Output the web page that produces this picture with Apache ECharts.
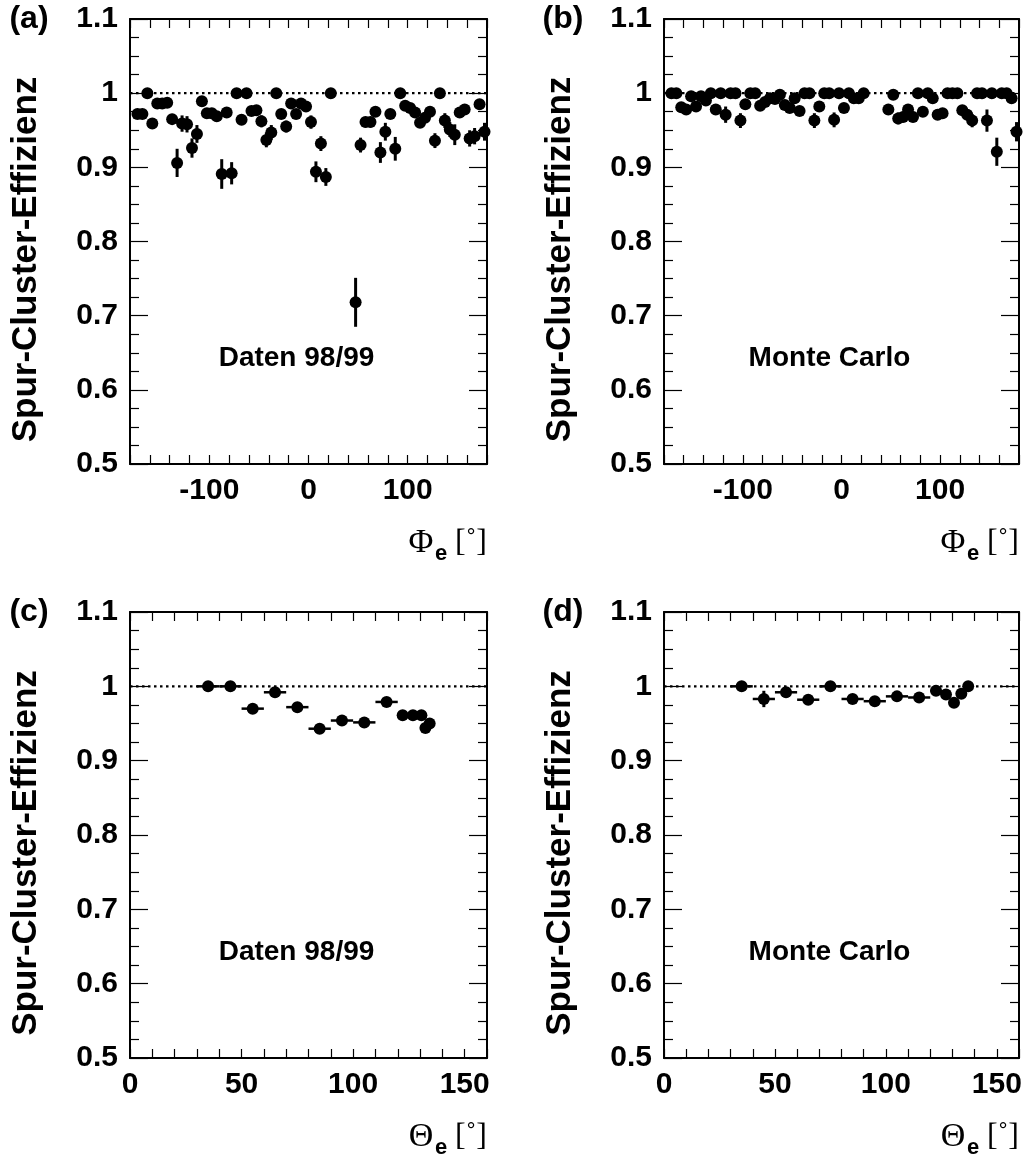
<!DOCTYPE html>
<html><head><meta charset="utf-8">
<script src="https://cdn.jsdelivr.net/npm/echarts@6/dist/echarts.min.js"></script>
<style>html,body{margin:0;padding:0;background:#fff}#c{width:1027px;height:1156px}</style>
</head><body><div id="c"></div>
<script>
// ---- Data ----
const phiBins = [-172.5,-167.5,-162.5,-157.5,-152.5,-147.5,-142.5,-137.5,-132.5,-127.5,-122.5,-117.5,-112.5,-107.5,-102.5,-97.5,-92.5,-87.5,-82.5,-77.5,-72.5,-67.5,-62.5,-57.5,-52.5,-47.5,-42.5,-37.5,-32.5,-27.5,-22.5,-17.5,-12.5,-7.5,-2.5,2.5,7.5,12.5,17.5,22.5,47.5,52.5,57.5,62.5,67.5,72.5,77.5,82.5,87.5,92.5,97.5,102.5,107.5,112.5,117.5,122.5,127.5,132.5,137.5,142.5,147.5,152.5,157.5,162.5,167.5,172.5,177.5];
const effPhiData = [0.972,0.972,1.000,0.959,0.986,0.986,0.987,0.965,0.906,0.959,0.958,0.926,0.945,0.989,0.973,0.973,0.969,0.891,0.974,0.892,1.000,0.964,1.000,0.976,0.977,0.962,0.937,0.947,1.000,0.972,0.955,0.986,0.972,0.986,0.982,0.961,0.894,0.932,0.887,1.000,0.718,0.930,0.961,0.961,0.975,0.920,0.948,0.972,0.925,1.000,0.983,0.980,0.974,0.960,0.967,0.975,0.936,1.000,0.963,0.951,0.944,0.974,0.978,0.939,0.942,0.985,0.948];
const errPhiData = [0.006,0.006,0,0.007,0.005,0.005,0.005,0.007,0.019,0.011,0.011,0.013,0.012,0.005,0.006,0.006,0.006,0.020,0.006,0.015,0,0.007,0,0.006,0.006,0.008,0.010,0.010,0,0.006,0.008,0.005,0.006,0.005,0.006,0.009,0.014,0.010,0.012,0,0.033,0.010,0.007,0.007,0.006,0.014,0.012,0.006,0.016,0,0.005,0.006,0.006,0.007,0.007,0.006,0.010,0,0.010,0.010,0.014,0.006,0.006,0.011,0.011,0.005,0.012];
const effPhiMC = [1.000,1.000,0.981,0.978,0.996,0.982,0.996,0.990,1.000,0.978,1.000,0.971,1.000,1.000,0.963,0.985,1.000,1.000,0.983,0.988,0.993,0.992,0.998,0.984,0.980,0.993,0.976,1.000,1.000,0.963,0.982,1.000,1.000,0.964,1.000,0.980,1.000,0.993,0.993,1.000,0.978,0.998,0.966,0.968,0.978,0.968,1.000,0.975,1.000,0.993,0.971,0.973,1.000,1.000,1.000,0.977,0.971,0.963,1.000,1.000,0.963,1.000,0.921,1.000,1.000,0.993,0.948];
const errPhiMC = [0,0,0.005,0.005,0.003,0.005,0.003,0.004,0,0.005,0,0.011,0,0,0.010,0.005,0,0,0.005,0.004,0.003,0.004,0.002,0.005,0.005,0.003,0.006,0,0,0.010,0.005,0,0,0.010,0,0.005,0,0.003,0.003,0,0.005,0.002,0.008,0.007,0.005,0.007,0,0.006,0,0.003,0.007,0.007,0,0,0,0.006,0.007,0.009,0,0,0.015,0,0.019,0,0,0.003,0.013];

const thetaData = [35,45,55,65,75,85,95,105,115,122.2,126.8,130.6,132.4,134.3];
const thetaWidthData = [5,5,5,5,5,5,5,5,5,2.5,2,1.5,1,1];
const effThetaData = [1.000,1.000,0.970,0.992,0.972,0.943,0.954,0.9515,0.979,0.961,0.961,0.961,0.944,0.950];
const errThetaData = [0,0,0.004,0.003,0.004,0.004,0.004,0.004,0.003,0.004,0.004,0.004,0.005,0.005];

const thetaMC = [35,45,55,65,75,85,95,105,115,122.6,127.1,130.7,134.0,137.1];
const thetaWidthMC = [5,5,5,5,5,5,5,5,5,2.5,2,1.5,1.5,1.5];
const effThetaMC = [1.000,0.983,0.992,0.982,1.000,0.983,0.980,0.9865,0.985,0.994,0.989,0.978,0.990,1.000];
const errThetaMC = [0,0.011,0.004,0.004,0,0.004,0.004,0.003,0.003,0.003,0.004,0.005,0.004,0];

const yTicks = {min:0.5, max:1.1, interval:0.1};
const panelTexts = ['Daten 98/99','Monte Carlo','Daten 98/99','Monte Carlo'];
const panelLetters = ['(a)','(b)','(c)','(d)'];
const yTitle = 'Spur-Cluster-Effizienz';

// ---- Layout ----
const grids = [
  {left:130, top:19, width:357, height:445},
  {left:664, top:19, width:355, height:445},
  {left:130, top:612, width:357, height:446},
  {left:664, top:612, width:355, height:446}
];
const FONT = 'Liberation Sans';
const xCfg = [
  {min:-180, max:180, interval:20, show:[-100,0,100]},
  {min:-180, max:180, interval:20, show:[-100,0,100]},
  {min:0, max:160, interval:10, show:[0,50,100,150]},
  {min:0, max:160, interval:10, show:[0,50,100,150]}
];

const xAxes = [], yAxes = [], series = [], graphic = [];
function yfmt(v){ return String(+(+v).toFixed(2)); }

grids.forEach((g, i) => {
  const xc = xCfg[i];
  const line = {show:true, onZero:false, lineStyle:{color:'#000', width:2}};
  xAxes.push({gridIndex:i, type:'value', position:'bottom', min:xc.min, max:xc.max, interval:xc.interval,
    axisLine:line, splitLine:{show:false},
    axisTick:{show:true, inside:true, length:9, lineStyle:{color:'#000', width:1.2}},
    axisLabel:{show:true, interval:0, margin:12, color:'#000', fontFamily:FONT, fontWeight:'bold', fontSize:30,
      formatter:(v)=> xc.show.indexOf(Math.round(v))>=0 && Math.abs(v-Math.round(v))<1e-6 ? String(Math.round(v)) : ''}});
  xAxes.push({gridIndex:i, type:'value', position:'top', min:xc.min, max:xc.max, interval:xc.interval,
    axisLine:line, splitLine:{show:false}, axisLabel:{show:false},
    axisTick:{show:true, inside:true, length:9, lineStyle:{color:'#000', width:1.2}}});
  yAxes.push({gridIndex:i, type:'value', position:'left', min:yTicks.min, max:yTicks.max, interval:yTicks.interval,
    axisLine:line, splitLine:{show:false},
    axisTick:{show:true, inside:true, length:18, lineStyle:{color:'#000', width:1.2}},
    minorTick:{show:true, splitNumber:4, length:9, lineStyle:{color:'#000', width:1.2}},
    axisLabel:{show:true, margin:12, color:'#000', fontFamily:FONT, fontWeight:'bold', fontSize:30, formatter:yfmt}});
  yAxes.push({gridIndex:i, type:'value', position:'right', min:yTicks.min, max:yTicks.max, interval:yTicks.interval,
    axisLine:line, splitLine:{show:false}, axisLabel:{show:false},
    axisTick:{show:true, inside:true, length:18, lineStyle:{color:'#000', width:1.2}},
    minorTick:{show:true, splitNumber:4, length:9, lineStyle:{color:'#000', width:1.2}}});
});

function errRender(params, api){
  const x = api.value(0), y = api.value(1), ey = api.value(2), ex = api.value(3);
  const ch = [];
  if (ey > 0){
    const a = api.coord([x, y-ey]), b = api.coord([x, y+ey]);
    ch.push({type:'line', shape:{x1:a[0], y1:a[1], x2:b[0], y2:b[1]}, style:{stroke:'#000', lineWidth:3}});
  }
  if (ex > 0){
    const a = api.coord([x-ex, y]), b = api.coord([x+ex, y]);
    ch.push({type:'line', shape:{x1:a[0], y1:a[1], x2:b[0], y2:b[1]}, style:{stroke:'#000', lineWidth:2.5}});
  }
  return {type:'group', children:ch};
}

const sets = [
  {x:phiBins, y:effPhiData, e:errPhiData, w:null},
  {x:phiBins, y:effPhiMC, e:errPhiMC, w:null},
  {x:thetaData, y:effThetaData, e:errThetaData, w:thetaWidthData},
  {x:thetaMC, y:effThetaMC, e:errThetaMC, w:thetaWidthMC}
];
sets.forEach((s, i) => {
  series.push({type:'line', xAxisIndex:2*i, yAxisIndex:2*i, data:[[xCfg[i].min,1],[xCfg[i].max,1]],
    symbol:'none', silent:true, z:1, lineStyle:{color:'#000', width:2.2, type:[2.5,3.5]}});
  series.push({type:'custom', xAxisIndex:2*i, yAxisIndex:2*i, renderItem:errRender, clip:true, z:2, silent:true,
    data:s.x.map((x,k)=>[x, s.y[k], s.e[k], s.w ? s.w[k] : 0])});
  series.push({type:'scatter', xAxisIndex:2*i, yAxisIndex:2*i, symbol:'circle', symbolSize:12, z:3, silent:true,
    itemStyle:{color:'#000', opacity:1}, data:s.x.map((x,k)=>[x, s.y[k]])});
});

grids.forEach((g, i) => {
  const cx = g.left + g.width/2;
  graphic.push({type:'text', x:cx - 12, y:g.top + g.height*0.763, style:{text:panelTexts[i], fill:'#000',
    font:'bold 28px "Liberation Sans"', align:'center', verticalAlign:'middle'}});
  graphic.push({type:'text', x:g.left - 101, y:g.top, style:{text:panelLetters[i], fill:'#000',
    font:'bold 32px "Liberation Sans"', align:'center', verticalAlign:'middle'}});
  graphic.push({type:'text', x:g.left - 104, y:g.top + g.height/2 + 18, rotation:Math.PI/2,
    style:{text:yTitle, fill:'#000', font:'bold 35px "Liberation Sans"', align:'center', verticalAlign:'middle'}});
  const sym = i < 2 ? '\u03A6' : '\u0398';
  const r = g.left + g.width;
  const by = g.top + g.height + 79;
  graphic.push({type:'text', x:r - 66, y:by, style:{text:sym, fill:'#000', font:'34px "Liberation Serif"', align:'center', verticalAlign:'middle'}});
  graphic.push({type:'text', x:r - 46, y:by + 11, style:{text:'e', fill:'#000', font:'bold 22px "Liberation Sans"', align:'center', verticalAlign:'middle'}});
  graphic.push({type:'text', x:r - 16, y:by, style:{text:'[\u02DA]', fill:'#000', font:'32px "Liberation Serif"', align:'center', verticalAlign:'middle'}});
});

const chart = echarts.init(document.getElementById('c'), null, {renderer:'canvas'});
chart.setOption({
  animation:false,
  backgroundColor:'#fff',
  grid: grids.map(g => Object.assign({containLabel:false}, g)),
  xAxis: xAxes, yAxis: yAxes, series: series, graphic: graphic
});
</script></body></html>
